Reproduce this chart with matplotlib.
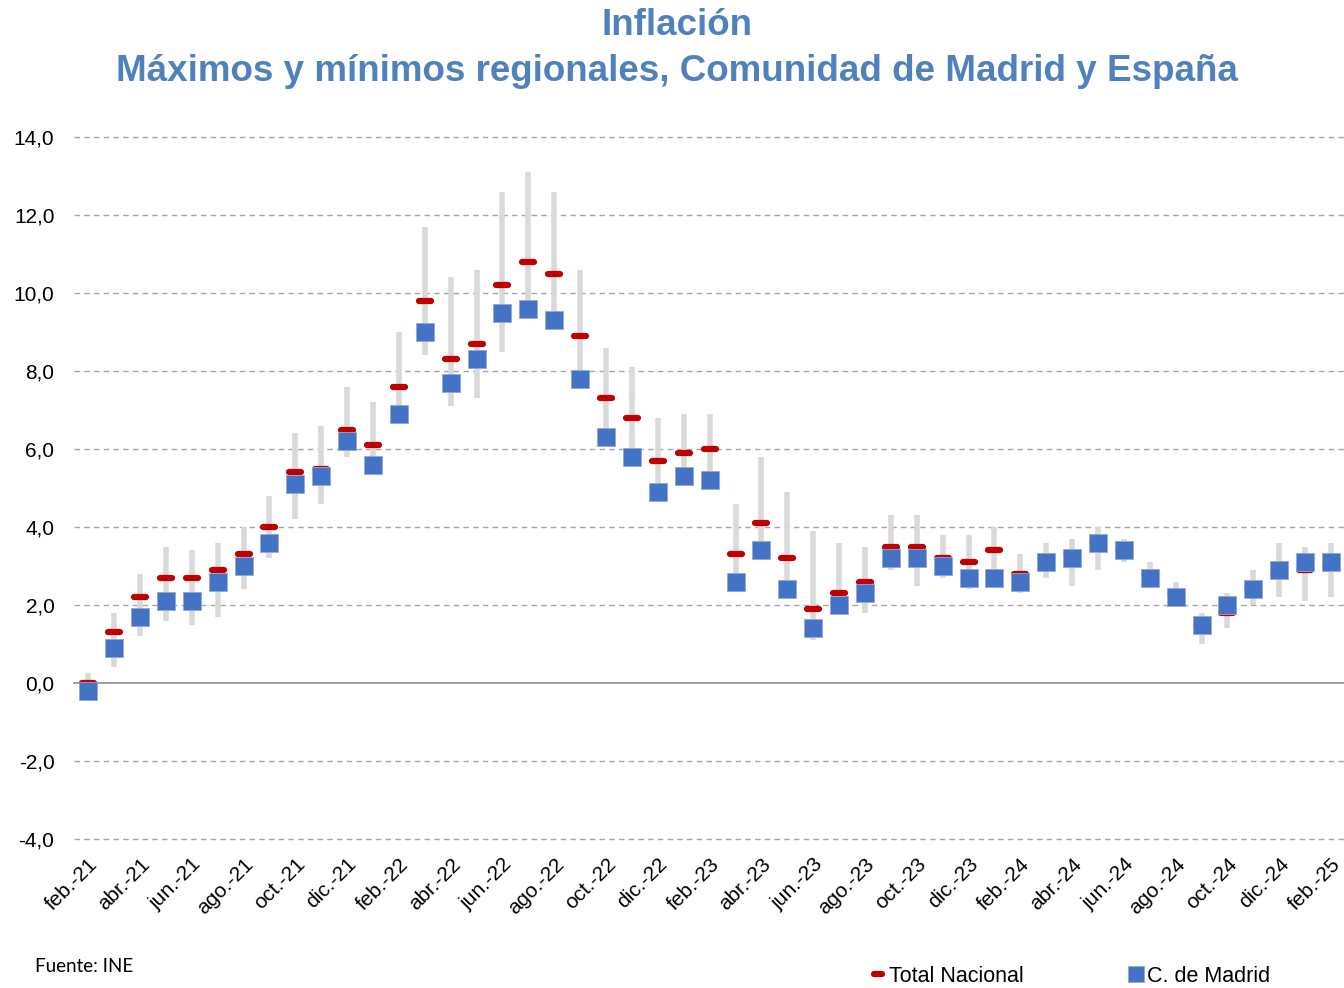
import matplotlib
matplotlib.use("Agg")
import matplotlib.pyplot as plt
from matplotlib.markers import MarkerStyle
from matplotlib.lines import Line2D

# Months feb-21 .. feb-25
month_abbr = ['ene.', 'feb.', 'mar.', 'abr.', 'may.', 'jun.',
              'jul.', 'ago.', 'sep.', 'oct.', 'nov.', 'dic.']
months = [f"{month_abbr[(1 + i) % 12]}-{21 + (1 + i) // 12}" for i in range(49)]

madrid = [-0.2, 0.9, 1.7, 2.1, 2.1, 2.6, 3.0, 3.6, 5.1, 5.3, 6.2, 5.6,
          6.9, 9.0, 7.7, 8.3, 9.5, 9.6, 9.3, 7.8, 6.3, 5.8, 4.9, 5.3,
          5.2, 2.6, 3.4, 2.4, 1.4, 2.0, 2.3, 3.2, 3.2, 3.0, 2.7, 2.7,
          2.6, 3.1, 3.2, 3.6, 3.4, 2.7, 2.2, 1.5, 2.0, 2.4, 2.9, 3.1, 3.1]

nacional = [0.0, 1.3, 2.2, 2.7, 2.7, 2.9, 3.3, 4.0, 5.4, 5.5, 6.5, 6.1,
            7.6, 9.8, 8.3, 8.7, 10.2, 10.8, 10.5, 8.9, 7.3, 6.8, 5.7, 5.9,
            6.0, 3.3, 4.1, 3.2, 1.9, 2.3, 2.6, 3.5, 3.5, 3.2, 3.1, 3.4,
            2.8, 3.2, 3.3, 3.6, 3.4, 2.8, 2.3, 1.5, 1.8, 2.4, 2.8, 2.9, 3.0]

reg_max = [0.25, 1.8, 2.8, 3.5, 3.4, 3.6, 4.0, 4.8, 6.4, 6.6, 7.6, 7.2,
           9.0, 11.7, 10.4, 10.6, 12.6, 13.1, 12.6, 10.6, 8.6, 8.1, 6.8, 6.9,
           6.9, 4.6, 5.8, 4.9, 3.9, 3.6, 3.5, 4.3, 4.3, 3.8, 3.8, 4.0,
           3.3, 3.6, 3.7, 4.0, 3.7, 3.1, 2.6, 1.8, 2.3, 2.9, 3.6, 3.5, 3.6]

reg_min = [-0.4, 0.4, 1.2, 1.6, 1.5, 1.7, 2.4, 3.2, 4.2, 4.6, 5.8, 5.6,
           6.9, 8.4, 7.1, 7.3, 8.5, 9.6, 9.3, 7.8, 6.3, 5.8, 4.9, 5.3,
           5.2, 2.6, 3.4, 2.4, 1.1, 2.0, 1.8, 2.9, 2.5, 2.7, 2.4, 2.7,
           2.3, 2.7, 2.5, 2.9, 3.1, 2.7, 2.2, 1.0, 1.4, 2.0, 2.2, 2.1, 2.2]

yticks = [-4, -2, 0, 2, 4, 6, 8, 10, 12, 14]

title_color = '#4f81bd'
red = '#c00000'
blue = '#4472c4'
grey_bar = '#d9d9d9'

plt.rcParams['font.family'] = ['Liberation Sans', 'DejaVu Sans']

fig = plt.figure(figsize=(13.44, 9.88), dpi=100)
ax = fig.add_axes([0.055, 0.1508, 0.945, 0.7105])

x = list(range(len(months)))

# range of regional values
ax.vlines(x, reg_min, reg_max, colors=grey_bar, lw=4, zorder=2)

dash = MarkerStyle('_', capstyle='round')
ax.plot(x, nacional, ls='none', marker=dash, ms=8, mew=4.5, color=red, zorder=3)
ax.plot(x, madrid, ls='none', marker='s', ms=12.5, mfc=blue, mec='#8faadc',
        mew=0.6, zorder=4)

ax.set_ylim(-4, 14)
ax.set_xlim(-0.55, 48.5)
ax.set_yticks(yticks)
ax.set_yticklabels([f"{v:.1f}".replace('.', ',') for v in yticks], fontsize=15)
for v in yticks:
    if v == 0:
        ax.axhline(v, color='#8c8c8c', lw=1.2, zorder=1, clip_on=False)
    else:
        ax.axhline(v, color='#a6a6a6', lw=1, ls=(0, (4, 3)), zorder=1, clip_on=False)

ax.set_xticks(x[::2])
ax.set_xticklabels(months[::2], rotation=45, ha='right', va='top',
                   rotation_mode='anchor', fontsize=15)
ax.tick_params(axis='y', length=0, pad=14)
ax.tick_params(axis='x', length=0, pad=11)
for s in ax.spines.values():
    s.set_visible(False)

fig.text(0.504, 0.974, 'Inflación', ha='center', va='center',
         fontsize=26.5, fontweight='bold', color=title_color)
fig.text(0.504, 0.928, 'Máximos y mínimos regionales, Comunidad de Madrid y España',
         ha='center', va='center', fontsize=26.5, fontweight='bold', color=title_color)

fig.text(0.026, 0.022, 'Fuente: INE', fontsize=13.5, family=['Lato', 'DejaVu Sans'],
         va='center')

handles = [Line2D([], [], ls='none', marker=dash, ms=6, mew=4.5, color=red),
           Line2D([], [], ls='none', marker='s', ms=11, mfc=blue, mec='#8faadc', mew=0.6)]
fig.legend(handles, ['Total Nacional', 'C. de Madrid'], loc='center left',
           bbox_to_anchor=(0.648, 0.012), ncol=2, frameon=False, fontsize=15.5,
           handlelength=0.7, handletextpad=0.15, columnspacing=4.85,
           borderpad=0, borderaxespad=0)

fig.savefig('out.png', dpi=100)
